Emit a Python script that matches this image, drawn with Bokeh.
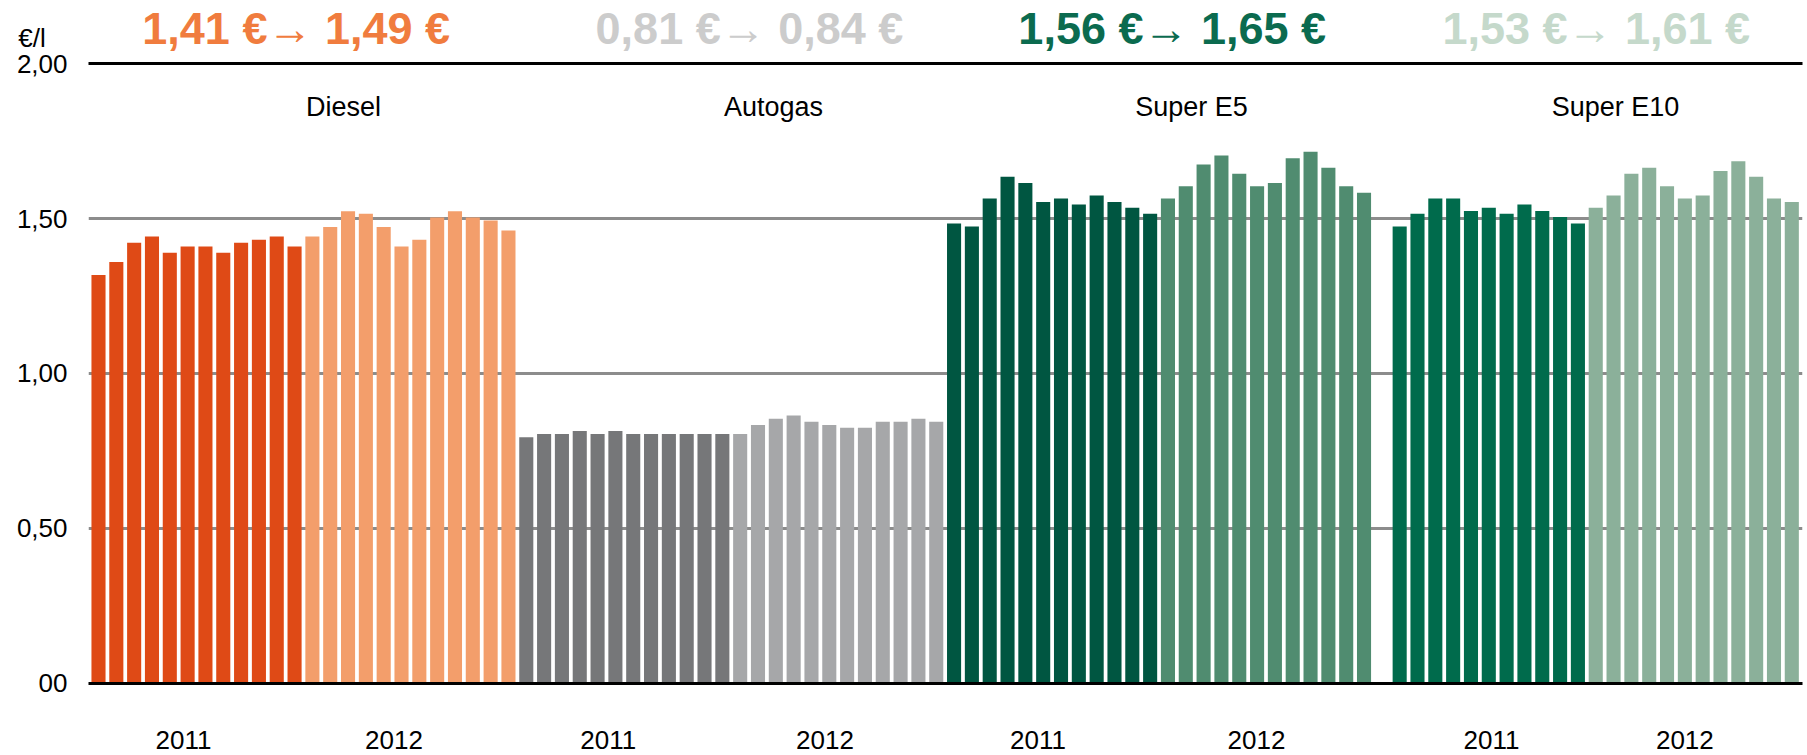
import math
from bokeh.plotting import figure
from bokeh.models import Range1d, FixedTicker, Grid, ColumnDataSource
from bokeh.core.properties import value
from bokeh.embed import file_html
from bokeh.resources import INLINE

# ---------------- data ----------------
fuels = ["Diesel", "Autogas", "Super E5", "Super E10"]
years = ["2011", "2012"]
changes = ["1,41 €→ 1,49 €", "0,81 €→ 0,84 €", "1,56 €→ 1,65 €", "1,53 €→ 1,61 €"]
unit_label = "€/l"

diesel_2011 = [1.318, 1.360, 1.422, 1.442, 1.390, 1.410, 1.410, 1.390, 1.422, 1.432, 1.442, 1.410]
diesel_2012 = [1.442, 1.473, 1.524, 1.516, 1.473, 1.410, 1.432, 1.504, 1.524, 1.504, 1.494, 1.462]
autogas_2011 = [0.794, 0.805, 0.805, 0.814, 0.805, 0.814, 0.805, 0.805, 0.805, 0.805, 0.805, 0.805]
autogas_2012 = [0.805, 0.834, 0.854, 0.864, 0.844, 0.834, 0.825, 0.825, 0.844, 0.844, 0.854, 0.844]
super_e5_2011 = [1.484, 1.475, 1.565, 1.635, 1.615, 1.554, 1.565, 1.546, 1.575, 1.554, 1.535, 1.516]
super_e5_2012 = [1.565, 1.605, 1.675, 1.704, 1.645, 1.605, 1.615, 1.695, 1.716, 1.664, 1.605, 1.584]
super_e10_2011 = [None, 1.475, 1.516, 1.565, 1.565, 1.525, 1.535, 1.516, 1.546, 1.525, 1.505, 1.484]
super_e10_2012 = [1.535, 1.575, 1.645, 1.664, 1.605, 1.565, 1.575, 1.654, 1.685, 1.635, 1.565, 1.554]

y_ticks = [0.0, 0.5, 1.0, 1.5, 2.0]
y_tick_labels = ["00", "0,50", "1,00", "1,50", "2,00"]

series = [
    [diesel_2011, diesel_2012],
    [autogas_2011, autogas_2012],
    [super_e5_2011, super_e5_2012],
    [super_e10_2011, super_e10_2012],
]

# ---------------- style ----------------
bar_colors = [["#DF4A16", "#F39E6B"], ["#767779", "#A6A7A9"],
              ["#005641", "#508C70"], ["#006B4C", "#8BB09A"]]
heading_colors = ["#F07C3E", "#CCCCCC", "#0B6B4F", "#C5D9CB"]
heading_dx = [-0.41, 1.02, 0.74, 0.53]
label_dx = [2.25, 2.37, 1.82, 1.61]
year_dx = [[-0.73, -0.92], [-0.9, -0.74], [-0.79, -0.53], [0.65, -0.5]]
FONT = "Liberation Sans"
UNIT_Y = 2.0833          # vertical position of the unit label
UNIT_PAD = "\u00a0\u00a0\u00a0"

xs, tops, cols = [], [], []
group_centers, year_centers = [], []
i = 0
for f, pair in enumerate(series):
    g_start = i
    yc = []
    for yi, vals in enumerate(pair):
        y_start = i
        for v in vals:
            if v is not None:
                xs.append(i)
                tops.append(v)
                cols.append(bar_colors[f][yi])
            i += 1
        yc.append((y_start + i - 1) / 2)
    year_centers.append(yc)
    group_centers.append((g_start + i - 1) / 2)

W, H = 1807, 755
p = figure(width=W, height=H, output_backend="svg", toolbar_location=None, tools="",
           x_range=Range1d(-0.561, 95.60), y_range=Range1d(-0.2335, 2.2044),
           x_axis_location=None, y_axis_location="left",
           min_border_left=88, min_border_right=5, min_border_top=0, min_border_bottom=0,
           background_fill_color="white", border_fill_color="white",
           outline_line_color=None)

for g in p.ygrid:
    g.visible = False
for g in p.xgrid:
    g.visible = False

ax = p.yaxis[0]
ax.ticker = FixedTicker(ticks=y_ticks + [UNIT_Y])
overrides = {t: l for t, l in zip(y_ticks, y_tick_labels)}
overrides[UNIT_Y] = unit_label + UNIT_PAD
ax.major_label_overrides = overrides
ax.axis_line_color = None
ax.major_tick_line_color = None
ax.minor_tick_line_color = None
ax.major_tick_out = 0
ax.major_tick_in = 0
ax.major_label_standoff = 21
ax.major_label_text_font = FONT
ax.major_label_text_font_size = "26px"
ax.major_label_text_color = "black"

grey_grid = Grid(dimension=1, ticker=FixedTicker(ticks=y_ticks[1:4]),
                 grid_line_color="#8C8C8C", grid_line_width=3)
p.add_layout(grey_grid)
black_grid = Grid(dimension=1, ticker=FixedTicker(ticks=[y_ticks[0], y_ticks[-1]]),
                  grid_line_color="black", grid_line_width=3, level="overlay")
p.add_layout(black_grid)

src = ColumnDataSource(dict(x=xs, top=tops, color=cols))
p.vbar(x="x", top="top", bottom=0, width=0.79, fill_color="color",
       line_color=None, source=src)

# headings
p.text(x=[c + d for c, d in zip(group_centers, heading_dx)], y=[2.1127] * 4,
       text=changes, text_color=heading_colors, text_font=value(FONT),
       text_font_style="bold", text_font_size="45px", text_align="center",
       text_baseline="alphabetic")

# fuel labels
p.text(x=[c + d for c, d in zip(group_centers, label_dx)], y=[1.8621] * 4,
       text=fuels, text_color="black", text_font=value(FONT),
       text_font_size="27px", text_align="center", text_baseline="alphabetic")

# year labels
yx, yt = [], []
for f in range(len(fuels)):
    for yi, yr in enumerate(years):
        yx.append(year_centers[f][yi] + year_dx[f][yi])
        yt.append(yr)
p.text(x=yx, y=[-0.1850] * len(yx), text=yt, text_color="black",
       text_font=value(FONT), text_font_size="26px", text_align="center",
       text_baseline="alphabetic")

open("out.html", "w").write(file_html(p, INLINE))
